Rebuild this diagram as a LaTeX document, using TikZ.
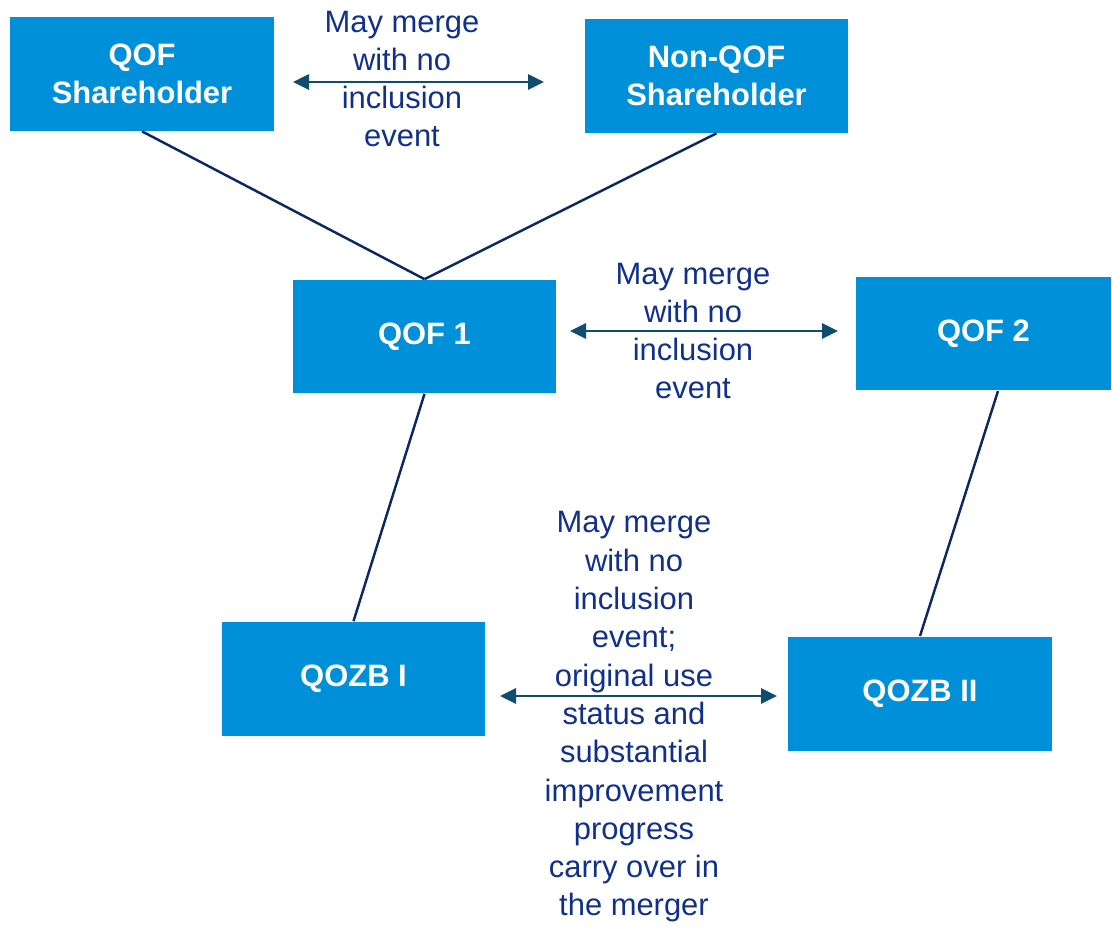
\documentclass[tikz,border=0pt]{standalone}
\usepackage{fontspec}
\setmainfont{Liberation Sans}
\usetikzlibrary{arrows.meta}
\definecolor{boxblue}{RGB}{0,144,218}
\definecolor{labelblue}{RGB}{16,48,140}
\definecolor{arrowblue}{RGB}{14,77,110}
\definecolor{linenavy}{RGB}{12,40,100}
\tikzset{
  entity/.style={fill=boxblue, draw=none, minimum width=5.28cm, minimum height=2.28cm, text=white, align=center, inner sep=0pt,
    font=\fontsize{17.6}{21.8}\selectfont\bfseries},
  note/.style={text=labelblue, align=center, inner sep=0pt, font=\fontsize{17.6}{21.8}\selectfont},
  link/.style={draw=linenavy, line width=1.4pt},
  merge/.style={draw=arrowblue, line width=1.6pt, {Triangle[length=0.32cm,width=0.3cm]}-{Triangle[length=0.32cm,width=0.3cm]}}
}
\begin{document}
\begin{tikzpicture}[x=0.02cm, y=-0.02cm]
\useasboundingbox (0,0) rectangle (1112,927);
\node[entity] (qofsh) at (142,74) {QOF\\Shareholder};
\node[entity] (nonqofsh) at (716.5,76) {Non-QOF\\Shareholder};
\node[entity] (qof1) at (424.5,336.5) {QOF 1};
\node[entity, minimum width=5.1cm] (qof2) at (983.5,333.5) {QOF 2};
\node[entity] (qozb1) at (353.5,678.5) {QOZB I};
\node[entity] (qozb2) at (920,693.5) {QOZB II};

\node[note] (n1) at (402,79) {May merge\\with no\\inclusion\\event};
\node[note] (n2) at (693,331) {May merge\\with no\\inclusion\\event};
\node[note] (n3) at (634,717) {May merge\\with no\\inclusion\\event;\\original use\\status and\\substantial\\improvement\\progress\\carry over in\\the merger};

\draw[link] (qofsh.south) -- (qof1.north);
\draw[link] (nonqofsh.south) -- (qof1.north);
\draw[link] (qof1.south) -- (qozb1.north);
\coordinate (q2b) at (998,391);
\coordinate (z2t) at (920,636);
\draw[link] (q2b) -- (z2t);

\coordinate (a1l) at (293,82);
\coordinate (a1r) at (544,82);
\coordinate (a2l) at (570,331);
\coordinate (a2r) at (838,331);
\coordinate (a3l) at (500,696);
\coordinate (a3r) at (777,696);
\draw[merge] (a1l) -- (a1r);
\draw[merge] (a2l) -- (a2r);
\draw[merge] (a3l) -- (a3r);
\end{tikzpicture}
\end{document}
